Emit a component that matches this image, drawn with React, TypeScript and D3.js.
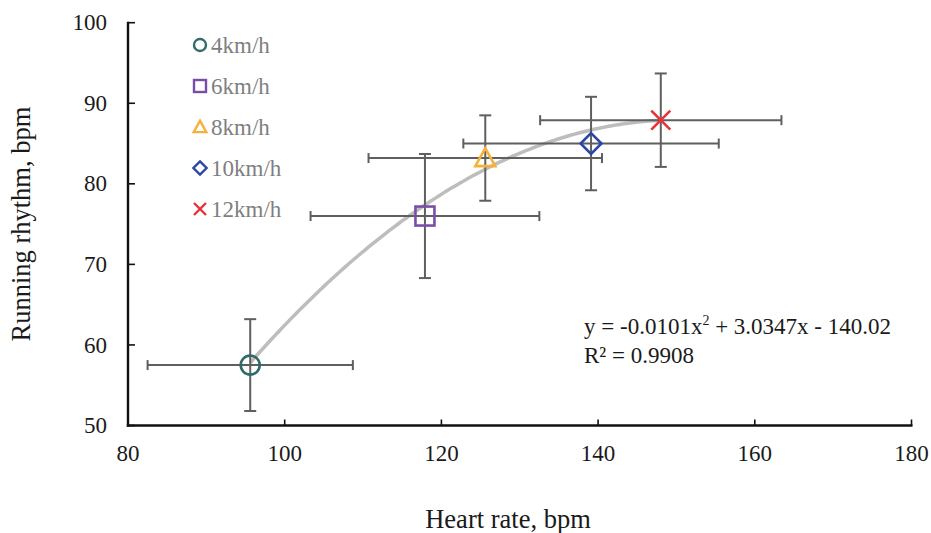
import React from "react";
import * as d3 from "d3";

const speeds = ["4km/h", "6km/h", "8km/h", "10km/h", "12km/h"];
const heartRate = [95.6, 117.9, 125.6, 139.1, 148.0];
const heartRateErr = [13.1, 14.6, 14.9, 16.3, 15.4];
const rhythm = [57.5, 76.0, 83.2, 85.0, 87.9];
const rhythmErr = [5.7, 7.7, 5.3, 5.8, 5.8];
const markerShapes = ["circle", "square", "triangle", "diamond", "cross"];
const markerColors = ["#2e6b6b", "#7a4ea8", "#f6b13a", "#2b46a3", "#e8313a"];
const trendCoef = [-0.0101, 3.0347, -140.02];
const xTicks = [80, 100, 120, 140, 160, 180];
const yTicks = [50, 60, 70, 80, 90, 100];

const W = 931;
const H = 533;
const x = d3.scaleLinear().domain([80, 180]).range([128, 911.5]);
const y = d3.scaleLinear().domain([50, 100]).range([425.5, 22.7]);
const FONT = "Liberation Serif, Times New Roman, Times, serif";

function Marker({ shape, color, cx, cy, s }: { shape: string; color: string; cx: number; cy: number; s: number }) {
  const sw = s > 8 ? 2.6 : 2.4;
  if (shape === "circle") return <circle cx={cx} cy={cy} r={s} fill="none" stroke={color} strokeWidth={sw} />;
  if (shape === "square")
    return <rect x={cx - s} y={cy - s} width={2 * s} height={2 * s} fill="none" stroke={color} strokeWidth={sw} />;
  if (shape === "triangle") {
    const p = `M${cx},${cy - s * 1.05} L${cx + s * 1.05},${cy + s * 0.85} L${cx - s * 1.05},${cy + s * 0.85} Z`;
    return <path d={p} fill="none" stroke={color} strokeWidth={sw} strokeLinejoin="miter" />;
  }
  if (shape === "diamond") {
    const d = s * 1.1;
    const p = `M${cx},${cy - d} L${cx + d},${cy} L${cx},${cy + d} L${cx - d},${cy} Z`;
    return <path d={p} fill="none" stroke={color} strokeWidth={sw} />;
  }
  return (
    <path
      d={`M${cx - s},${cy - s} L${cx + s},${cy + s} M${cx - s},${cy + s} L${cx + s},${cy - s}`}
      stroke={color}
      strokeWidth={sw}
      fill="none"
    />
  );
}

export default function App() {
  const x0 = heartRate[0];
  const x1 = heartRate[heartRate.length - 1];
  const f = (v: number) => trendCoef[0] * v * v + trendCoef[1] * v + trendCoef[2];
  const pts = d3.range(0, 101).map((i) => {
    const v = x0 + ((x1 - x0) * i) / 100;
    return [x(v), y(f(v))] as [number, number];
  });
  const trend = d3.line()(pts) || "";
  const errColor = "#5f5f5f";
  const cap = 5;
  const ts = { fontFamily: FONT };

  return (
    <svg width={W} height={H} style={{ position: "absolute", left: 0, top: 0, fontFamily: FONT }}>
      <rect width={W} height={H} fill="#fff" />
      {/* axes */}
      <line x1={x(80)} x2={x(80)} y1={y(100) - 1} y2={y(50) + 1.2} stroke="#111" strokeWidth={2.4} />
      <line x1={x(80) - 1.2} x2={x(180) + 1} y1={y(50)} y2={y(50)} stroke="#111" strokeWidth={2.4} />
      {yTicks.map((t) => (
        <g key={"y" + t}>
          <line x1={x(80)} x2={x(80) + 7} y1={y(t)} y2={y(t)} stroke="#111" strokeWidth={1.6} />
          <text x={107} y={y(t)} dy="0.33em" textAnchor="end" fontSize={23} fill="#1a1a1a" style={ts}>
            {t}
          </text>
        </g>
      ))}
      {xTicks.map((t) => (
        <g key={"x" + t}>
          <line x1={x(t)} x2={x(t)} y1={y(50)} y2={y(50) - 6} stroke="#111" strokeWidth={1.6} />
          <text x={x(t)} y={461} textAnchor="middle" fontSize={23} fill="#1a1a1a" style={ts}>
            {t}
          </text>
        </g>
      ))}
      <text x={508} y={528} textAnchor="middle" fontSize={26.5} fill="#1a1a1a" style={ts}>
        Heart rate, bpm
      </text>
      <text
        transform={`translate(30,${y(75)}) rotate(-90)`}
        textAnchor="middle"
        fontSize={26.5}
        fill="#1a1a1a"
        style={ts}
      >
        Running rhythm, bpm
      </text>

      {/* trend line */}
      <path d={trend} fill="none" stroke="#bdbdbd" strokeWidth={3.5} />

      {/* error bars */}
      {heartRate.map((hr, i) => {
        const cx = x(hr);
        const cy = y(rhythm[i]);
        const xl = x(hr - heartRateErr[i]);
        const xr = x(hr + heartRateErr[i]);
        const yt = y(rhythm[i] + rhythmErr[i]);
        const yb = y(rhythm[i] - rhythmErr[i]);
        return (
          <g key={"e" + i} stroke={errColor} strokeWidth={2}>
            <line x1={xl} x2={xr} y1={cy} y2={cy} />
            <line x1={xl} x2={xl} y1={cy - cap} y2={cy + cap} />
            <line x1={xr} x2={xr} y1={cy - cap} y2={cy + cap} />
            <line x1={cx} x2={cx} y1={yt} y2={yb} />
            <line x1={cx - cap - 1} x2={cx + cap + 1} y1={yt} y2={yt} />
            <line x1={cx - cap - 1} x2={cx + cap + 1} y1={yb} y2={yb} />
          </g>
        );
      })}

      {/* markers */}
      {heartRate.map((hr, i) => (
        <Marker key={"m" + i} shape={markerShapes[i]} color={markerColors[i]} cx={x(hr)} cy={y(rhythm[i])} s={9.5} />
      ))}

      {/* legend */}
      {speeds.map((s, i) => (
        <g key={"l" + i}>
          <Marker shape={markerShapes[i]} color={markerColors[i]} cx={200} cy={45 + i * 41} s={6} />
          <text x={211} y={45 + i * 41} dy="0.33em" fontSize={23} fill="#7f7f7f" style={ts}>
            {s}
          </text>
        </g>
      ))}

      {/* equation */}
      <text x={584} y={334} fontSize={23} fill="#1a1a1a" style={ts}>
        y = -0.0101x<tspan dy={-9} fontSize={14}>2</tspan>
        <tspan dy={9}> + 3.0347x - 140.02</tspan>
      </text>
      <text x={584} y={363} fontSize={23} fill="#1a1a1a" style={ts}>
        R² = 0.9908
      </text>
    </svg>
  );
}
